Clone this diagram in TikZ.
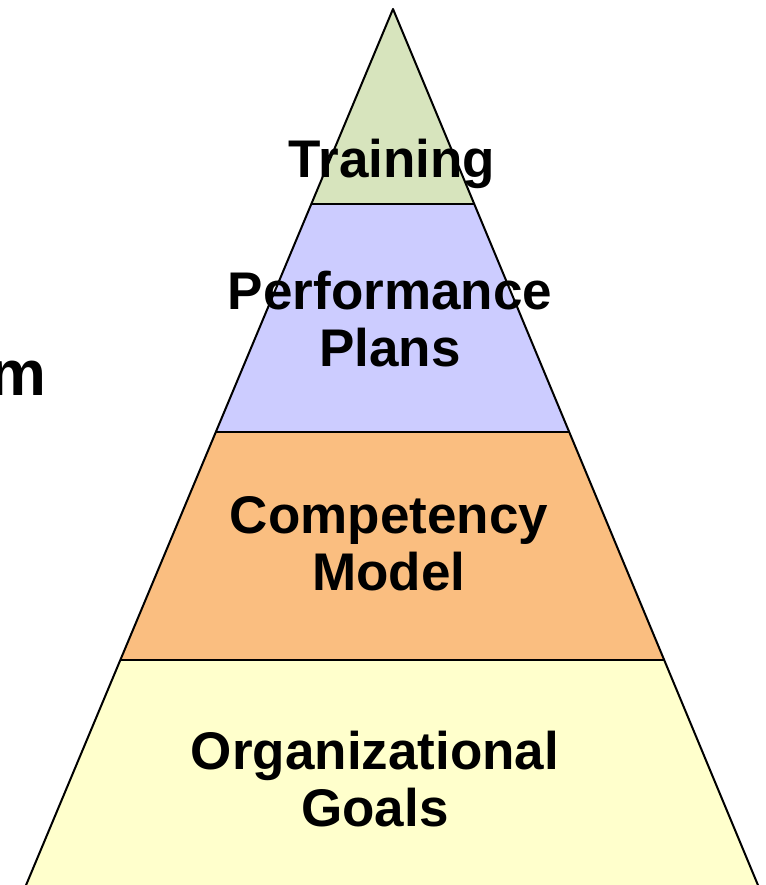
\documentclass[tikz,border=0pt]{standalone}
\usepackage{fontspec}
\setmainfont{Liberation Sans}
\usetikzlibrary{calc}
\definecolor{trainGreen}{RGB}{215,228,189}
\definecolor{planBlue}{RGB}{204,204,255}
\definecolor{modelOrange}{RGB}{250,190,128}
\definecolor{goalYellow}{RGB}{255,255,204}

\begin{document}
\begin{tikzpicture}[x=1pt,y=-1pt,
    layer text/.style={font=\bfseries\fontsize{53}{57}\selectfont, black,
        align=center, inner sep=0pt},
    every path/.style={line join=round}]
    \useasboundingbox (0,0) rectangle (765,885);

    % corners of the pyramid
    \coordinate (apex) at (393,9);
    \coordinate (bl) at (24,890);
    \coordinate (br) at (760,890);
    % layer borders on both sides
    \coordinate (l1) at ($(apex)!0.2213!(bl)$);
    \coordinate (r1) at ($(apex)!0.2213!(br)$);
    \coordinate (l2) at ($(apex)!0.4801!(bl)$);
    \coordinate (r2) at ($(apex)!0.4801!(br)$);
    \coordinate (l3) at ($(apex)!0.7389!(bl)$);
    \coordinate (r3) at ($(apex)!0.7389!(br)$);

    \fill[trainGreen] (apex) -- (r1) -- (l1) -- cycle;
    \fill[planBlue] (l1) -- (r1) -- (r2) -- (l2) -- cycle;
    \fill[modelOrange] (l2) -- (r2) -- (r3) -- (l3) -- cycle;
    \fill[goalYellow] (l3) -- (r3) -- (br) -- (bl) -- cycle;

    \draw[line width=1.5pt] (l1) -- (r1) (l2) -- (r2) (l3) -- (r3);
    \draw[line width=2pt] (bl) -- (apex) -- (br);

    \node[layer text, anchor=base] (training) at (392,178) {Training};
    \node[layer text, anchor=north] (plans) at (390,271) {Performance\\Plans};
    \node[layer text, anchor=north] (model) at (389,496) {Competency\\Model};
    \node[layer text, anchor=north] (goals) at (375,731) {Organizational\\Goals};

    \node[font=\bfseries\fontsize{64}{70}\selectfont, inner sep=0pt,
        anchor=base east] (cut) at (47,395) {m};
\end{tikzpicture}
\end{document}
